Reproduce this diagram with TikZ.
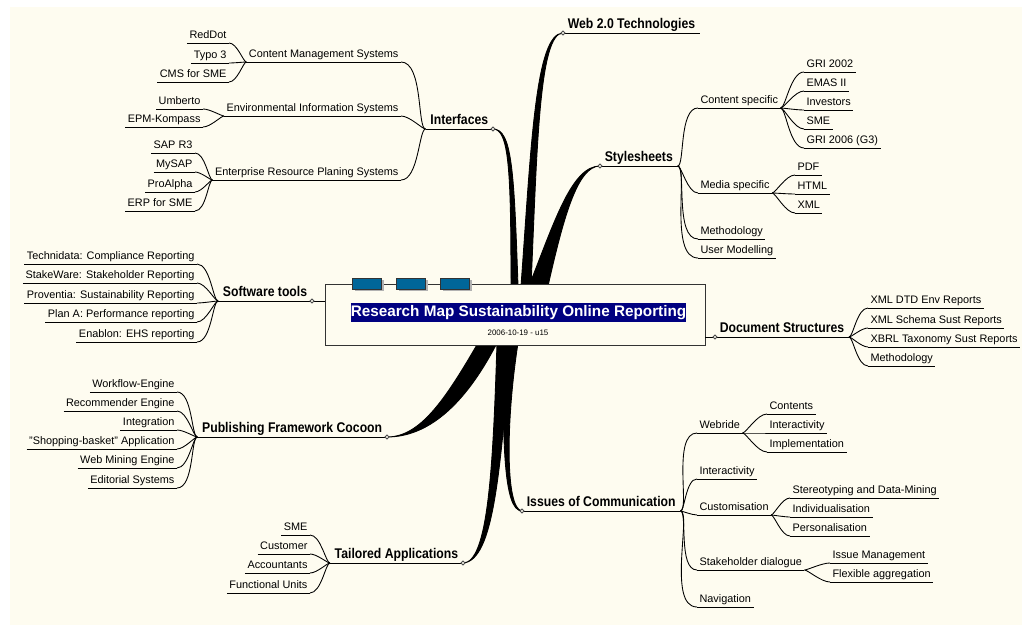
\documentclass[tikz,border=0pt]{standalone}
\usepackage{fontspec}
\setmainfont{Liberation Sans}
\newfontfamily\headfont[FakeStretch=0.87]{Liberation Sans}
\usetikzlibrary{shadows}

\definecolor{paper}{RGB}{254,252,240}
\definecolor{barblue}{RGB}{0,102,153}
\definecolor{titlenavy}{RGB}{0,0,128}

\begin{document}
\begin{tikzpicture}[x=0.02cm,y=-0.02cm,line width=0.5pt,
    uline/.style={append after command={(\tikzlastnode.south west) edge (\tikzlastnode.south east)}},
    topic/.style={font=\headfont\bfseries\fontsize{8}{9}\selectfont,inner xsep=2.5pt,inner ysep=0.4pt,text depth=2pt,uline},
    item/.style={font=\fontsize{6.2}{7.5}\selectfont,inner xsep=1.2pt,inner ysep=0.4pt,text depth=1.7pt,uline},
    lft/.style={anchor=south east}, rgt/.style={anchor=south west},
    rkid/.style={out=0,in=180,out looseness=0.3,in looseness=0.8},
    lkid/.style={out=180,in=0,out looseness=0.3,in looseness=0.8},
    knob/.style={draw=black!70,fill=paper},
    bar/.style={draw=black!80,fill=barblue,minimum width=0.58cm,minimum height=0.22cm,inner sep=0,
        drop shadow={shadow xshift=1.2pt,shadow yshift=-1.2pt,fill=black!30,opacity=1}}]

    \useasboundingbox (0,0) rectangle (1022,625);
    \fill[white] (0,0) rectangle (1022,625);
    \fill[paper] (10,7) rectangle (1022,625);

    % main topics
    \node[topic,rgt] (web) at (563,33) {Web 2.0 Technologies};
    \node[topic,lft] (intf) at (493,129) {Interfaces};
    \node[topic,rgt] (sty) at (600,166) {Stylesheets};
    \node[topic,lft] (sw) at (312,301) {Software tools};
    \node[topic,rgt] (ds) at (715,337) {Document Structures};
    \node[topic,lft] (pub) at (387,437) {Publishing Framework Cocoon};
    \node[topic,rgt] (iss) at (522,511) {Issues of Communication};
    \node[topic,lft] (tail) at (463,563) {Tailored Applications};

    % Interfaces
    \node[item,lft] (cms) at (401,62) {Content Management Systems};
    \node[item,lft] (reddot) at (229,43) {RedDot};
    \node[item,lft] (typo) at (229,63) {Typo 3};
    \node[item,lft] (cmssme) at (229,82) {CMS for SME};
    \node[item,lft] (eis) at (401,116) {Environmental Information Systems};
    \node[item,lft] (umb) at (203,109) {Umberto};
    \node[item,lft] (epm) at (203,127) {EPM-Kompass};
    \node[item,lft] (erp) at (401,180) {Enterprise Resource Planing Systems};
    \node[item,lft] (sap) at (195,153) {SAP R3};
    \node[item,lft] (mysap) at (195,172) {MySAP};
    \node[item,lft] (proalpha) at (195,192) {ProAlpha};
    \node[item,lft] (erpsme) at (195,211) {ERP for SME};

    % Software tools
    \node[item,lft] (tech) at (197,264) {Technidata: Compliance Reporting};
    \node[item,lft] (stakew) at (197,283) {StakeWare: Stakeholder Reporting};
    \node[item,lft] (prov) at (197,303) {Proventia: Sustainability Reporting};
    \node[item,lft] (plana) at (197,322) {Plan A: Performance reporting};
    \node[item,lft] (enab) at (197,342) {Enablon: EHS reporting};

    % Publishing Framework Cocoon
    \node[item,lft] (wf) at (177,392) {Workflow-Engine};
    \node[item,lft] (rec) at (177,411) {Recommender Engine};
    \node[item,lft] (integ) at (177,430) {Integration};
    \node[item,lft] (shop) at (177,449) {\symbol{34}Shopping-basket\symbol{34} Application};
    \node[item,lft] (wme) at (177,468) {Web Mining Engine};
    \node[item,lft] (edit) at (177,488) {Editorial Systems};

    % Tailored Applications
    \node[item,lft] (sme) at (310,535) {SME};
    \node[item,lft] (cust) at (310,554) {Customer};
    \node[item,lft] (acc) at (310,573) {Accountants};
    \node[item,lft] (fu) at (310,593) {Functional Units};

    % Stylesheets
    \node[item,rgt] (cs) at (698,108) {Content specific};
    \node[item,rgt] (gri02) at (804,72) {GRI 2002};
    \node[item,rgt] (emas) at (804,91) {EMAS II};
    \node[item,rgt] (inv) at (804,110) {Investors};
    \node[item,rgt] (smes) at (804,129) {SME};
    \node[item,rgt] (gri06) at (804,148) {GRI 2006 (G3)};
    \node[item,rgt] (ms) at (698,193) {Media specific};
    \node[item,rgt] (pdf) at (795,175) {PDF};
    \node[item,rgt] (html) at (795,194) {HTML};
    \node[item,rgt] (xml) at (795,213) {XML};
    \node[item,rgt] (meth) at (698,239) {Methodology};
    \node[item,rgt] (um) at (698,258) {User Modelling};

    % Document Structures
    \node[item,rgt] (dtd) at (868,308) {XML DTD Env Reports};
    \node[item,rgt] (schema) at (868,328) {XML Schema Sust Reports};
    \node[item,rgt] (xbrl) at (868,347) {XBRL Taxonomy Sust Reports};
    \node[item,rgt] (dsmeth) at (868,366) {Methodology};

    % Issues of Communication
    \node[item,rgt] (webride) at (697,433) {Webride};
    \node[item,rgt] (cont) at (767,414) {Contents};
    \node[item,rgt] (wint) at (767,433) {Interactivity};
    \node[item,rgt] (impl) at (767,452) {Implementation};
    \node[item,rgt] (inter) at (697,479) {Interactivity};
    \node[item,rgt] (custom) at (697,515) {Customisation};
    \node[item,rgt] (stereo) at (790,498) {Stereotyping and Data-Mining};
    \node[item,rgt] (indiv) at (790,517) {Individualisation};
    \node[item,rgt] (pers) at (790,536) {Personalisation};
    \node[item,rgt] (stake) at (697,570) {Stakeholder dialogue};
    \node[item,rgt] (issue) at (830,563) {Issue Management};
    \node[item,rgt] (flex) at (830,582) {Flexible aggregation};
    \node[item,rgt] (nav) at (697,607) {Navigation};

    % thick branches out of the centre
    \filldraw (511,286) .. controls (511,170) and (509,129) .. (intf.south east)
        .. controls (512,129) and (514,170) .. (518,286) -- cycle;
    \filldraw (521,286) .. controls (531,150) and (535,33) .. (web.south west)
        .. controls (539,33) and (537,150) .. (531,286) -- cycle;
    \filldraw (529,286) .. controls (555,220) and (572,166) .. (sty.south west)
        .. controls (577,166) and (563,220) .. (548,286) -- cycle;
    \filldraw (478,343) .. controls (445,400) and (420,437) .. (pub.south east)
        .. controls (428,437) and (465,405) .. (497,343) -- cycle;
    \filldraw (497,343) .. controls (493,470) and (488,563) .. (tail.south east)
        .. controls (494,561) and (500,470) .. (511,343) -- cycle;
    \filldraw (503,343) .. controls (503,440) and (503,511) .. (iss.south west)
        .. controls (505,509) and (506,420) .. (518,343) -- cycle;

    % centre box
    \node[draw=black!80,fill=paper,minimum width=7.6cm,minimum height=1.22cm,inner sep=0] (root) at (515,314.5) {};
    \node[fill=titlenavy,text=white,font=\bfseries\fontsize{8.7}{10}\selectfont,
        minimum width=6.7cm,minimum height=0.38cm,inner sep=0] (title) at (518.5,312.5)
        {Research Map Sustainability Online Reporting};
    \node[font=\fontsize{4.5}{5}\selectfont,inner sep=0] (date) at (518,333) {2006-10-19 - u15};
    \node[bar] (b1) at (367,283.5) {};
    \node[bar] (b2) at (411,283.5) {};
    \node[bar] (b3) at (455,283.5) {};

    \draw (sw.south east) -- (sw.south east -| root.west);
    \draw (root.east |- ds.south west) -- (ds.south west);

    % sub branches
    \draw (intf.south west) edge[lkid] (cms.south east) edge[lkid] (eis.south east) edge[lkid] (erp.south east);
    \draw (cms.south west) edge[lkid] (reddot.south east) edge[lkid] (typo.south east) edge[lkid] (cmssme.south east);
    \draw (eis.south west) edge[lkid] (umb.south east) edge[lkid] (epm.south east);
    \draw (erp.south west) edge[lkid] (sap.south east) edge[lkid] (mysap.south east)
        edge[lkid] (proalpha.south east) edge[lkid] (erpsme.south east);
    \draw (sw.south west) edge[lkid] (tech.south east) edge[lkid] (stakew.south east)
        edge[lkid] (prov.south east) edge[lkid] (plana.south east) edge[lkid] (enab.south east);
    \draw (pub.south west) edge[lkid] (wf.south east) edge[lkid] (rec.south east) edge[lkid] (integ.south east)
        edge[lkid] (shop.south east) edge[lkid] (wme.south east) edge[lkid] (edit.south east);
    \draw (tail.south west) edge[lkid] (sme.south east) edge[lkid] (cust.south east)
        edge[lkid] (acc.south east) edge[lkid] (fu.south east);
    \draw (sty.south east) edge[rkid] (cs.south west) edge[rkid] (ms.south west)
        edge[rkid] (meth.south west) edge[rkid] (um.south west);
    \draw (cs.south east) edge[rkid] (gri02.south west) edge[rkid] (emas.south west)
        edge[rkid] (inv.south west) edge[rkid] (smes.south west) edge[rkid] (gri06.south west);
    \draw (ms.south east) edge[rkid] (pdf.south west) edge[rkid] (html.south west) edge[rkid] (xml.south west);
    \draw (ds.south east) edge[rkid] (dtd.south west) edge[rkid] (schema.south west)
        edge[rkid] (xbrl.south west) edge[rkid] (dsmeth.south west);
    \draw (iss.south east) edge[rkid] (webride.south west) edge[rkid] (inter.south west)
        edge[rkid] (custom.south west) edge[rkid] (stake.south west) edge[rkid] (nav.south west);
    \draw (webride.south east) edge[rkid] (cont.south west) edge[rkid] (wint.south west) edge[rkid] (impl.south west);
    \draw (custom.south east) edge[rkid] (stereo.south west) edge[rkid] (indiv.south west) edge[rkid] (pers.south west);
    \draw (stake.south east) edge[rkid] (issue.south west) edge[rkid] (flex.south west);

    % knobs where the topics meet their branch
    \foreach \k in {web.south west,intf.south east,sty.south west,sw.south east,
                    ds.south west,pub.south east,iss.south west,tail.south east}
        \draw[knob] (\k) circle[radius=1.1pt];
\end{tikzpicture}
\end{document}
